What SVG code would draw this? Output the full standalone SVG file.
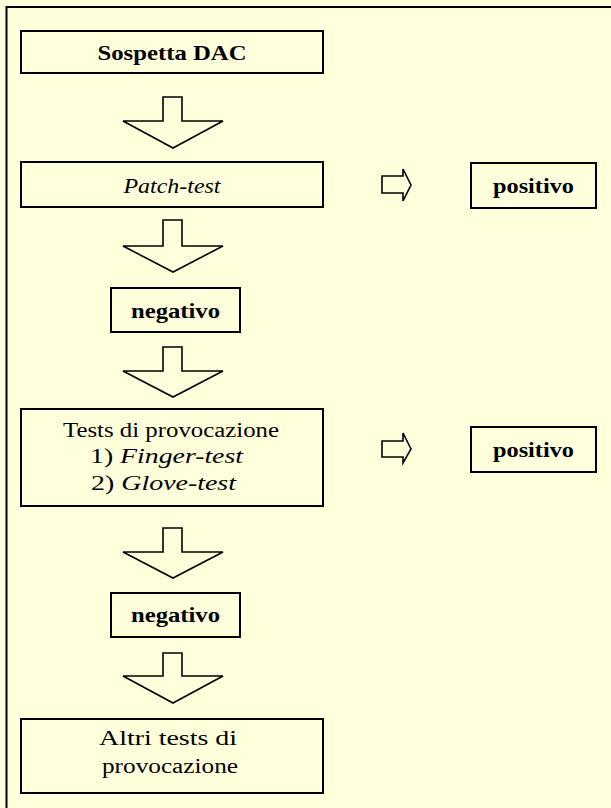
<svg xmlns="http://www.w3.org/2000/svg" width="611" height="808" viewBox="0 0 611 808">
<style>
.bg{fill:#FFFFDC}
.box{fill:#FFFFDC;stroke:#000;stroke-width:2}
.arr{fill:#FFFFDC;stroke:#000;stroke-width:1.6;stroke-linejoin:miter}
.t{font-size:20px;fill:#000;text-anchor:middle}
.b{font-weight:bold;font-size:21px}
.i{font-style:italic}
</style>
<rect class="bg" x="0" y="0" width="611" height="808"/>
<rect x="6.5" y="7" width="700" height="900" fill="none" stroke="#000" stroke-width="2"/>

<g font-family="Liberation Serif, Times New Roman, serif">
<g id="n-sospetta">
<rect class="box" x="21" y="31" width="302" height="42"/>
<text class="t b" x="172" y="60" textLength="149" lengthAdjust="spacingAndGlyphs">Sospetta DAC</text>
</g>
<g id="n-patch">
<rect class="box" x="21" y="162" width="302" height="45"/>
<text class="t i" x="172" y="193" textLength="97" lengthAdjust="spacingAndGlyphs">Patch-test</text>
</g>
<g id="n-positivo1">
<rect class="box" x="471" y="163" width="125" height="45"/>
<text class="t b" x="533.5" y="193" textLength="81" lengthAdjust="spacingAndGlyphs">positivo</text>
</g>
<g id="n-negativo1">
<rect class="box" x="111" y="288" width="129" height="44"/>
<text class="t b" x="175.5" y="318" textLength="89" lengthAdjust="spacingAndGlyphs">negativo</text>
</g>
<g id="n-provocazione">
<rect class="box" x="21" y="409" width="302" height="97"/>
<text class="t" x="171" y="437" textLength="216" lengthAdjust="spacingAndGlyphs">Tests di provocazione</text>
<text class="t" x="166.5" y="463" textLength="153" lengthAdjust="spacingAndGlyphs">1) <tspan class="i">Finger-test</tspan></text>
<text class="t" x="163.5" y="490" textLength="145" lengthAdjust="spacingAndGlyphs">2) <tspan class="i">Glove-test</tspan></text>
</g>
<g id="n-positivo2">
<rect class="box" x="471" y="427" width="125" height="45"/>
<text class="t b" x="533.5" y="457" textLength="81" lengthAdjust="spacingAndGlyphs">positivo</text>
</g>
<g id="n-negativo2">
<rect class="box" x="111" y="593" width="129" height="44"/>
<text class="t b" x="175.5" y="622" textLength="89" lengthAdjust="spacingAndGlyphs">negativo</text>
</g>
<g id="n-altri">
<rect class="box" x="21" y="719" width="302" height="74"/>
<text class="t" x="168" y="745" textLength="138" lengthAdjust="spacingAndGlyphs">Altri tests di</text>
<text class="t" x="170" y="773" textLength="136" lengthAdjust="spacingAndGlyphs">provocazione</text>
</g>
</g>

<g id="connectors">
<polygon class="arr" points="163,97 182,97 182,121 223,121 173,148 123,121 163,121"/>
<polygon class="arr" points="163,220 182,220 182,246 223,246 173,272 123,246 163,246"/>
<polygon class="arr" points="163,347 182,347 182,371 223,371 173,397 123,371 163,371"/>
<polygon class="arr" points="163,528 182,528 182,552 223,552 173,578 123,552 163,552"/>
<polygon class="arr" points="163,653 182,653 182,676 223,676 173,703 123,676 163,676"/>
<polygon class="arr" points="382,176 403,176 403,169 411,185 403,201 403,193 382,193"/>
<polygon class="arr" points="382,441 403,441 403,433 411,449 403,463 403,457 382,457"/>
</g>
</svg>
